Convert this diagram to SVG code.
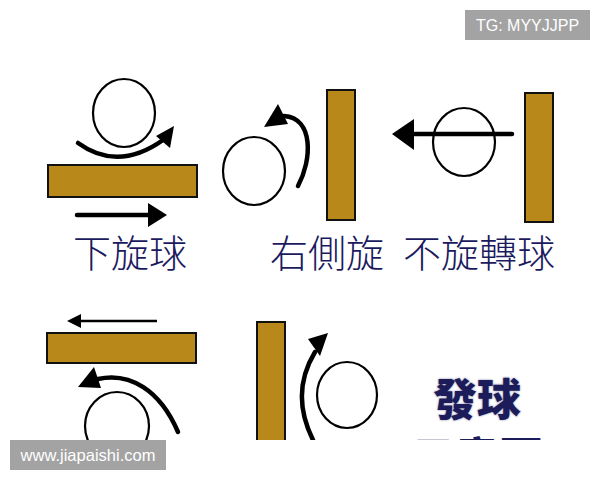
<svg xmlns="http://www.w3.org/2000/svg" width="600" height="480" viewBox="0 0 600 480">
  <defs>
    <style>
      .paddle { fill: #B8891A; stroke: #111; stroke-width: 2; }
      .ball { fill: #fff; stroke: #000; stroke-width: 2.2; }
      .thick { fill: none; stroke: #000; stroke-width: 4.5; stroke-linecap: round; }
      .thin { fill: none; stroke: #000; stroke-width: 2.5; }
      .head { fill: #000; }
      .label { font-family: "Noto Sans CJK TC", "Noto Sans CJK SC", sans-serif; font-size: 38px; font-weight: 300; fill: #1a1a5e; }
      .title { font-family: "Noto Sans CJK TC", "Noto Sans CJK SC", sans-serif; font-size: 44px; font-weight: 900; fill: #1c1c5a; }
      .wm { fill: #a3a3a3; }
      .wmtext { font-family: "Liberation Sans", Arial, sans-serif; fill: #fff; text-anchor: middle; }
    </style>
    <clipPath id="imgclip">
      <rect x="0" y="0" width="600" height="440"/>
    </clipPath>
    <filter id="blur" x="-10%" y="-10%" width="120%" height="120%">
      <feGaussianBlur stdDeviation="1.2"/>
    </filter>
  </defs>
  <rect x="0" y="0" width="600" height="480" fill="#fff"/>

  <g clip-path="url(#imgclip)">
    <g id="backspin">
      <ellipse class="ball" cx="124" cy="113" rx="31" ry="34"/>
      <rect class="paddle" x="48" y="165" width="149" height="32"/>
      <text class="label" x="73" y="267">下旋球</text>
    </g>

    <g id="sidespin">
      <ellipse class="ball" cx="254" cy="171" rx="31" ry="34"/>
      <rect class="paddle" x="327" y="90" width="28" height="130"/>
      <text class="label" x="270" y="267">右側旋</text>
    </g>

    <g id="nospin">
      <ellipse class="ball" cx="464" cy="142" rx="31" ry="34"/>
      <rect class="paddle" x="525" y="93" width="28" height="129"/>
      <text class="label" x="403" y="267">不旋轉球</text>
    </g>

    <g id="serve-under">
      <rect class="paddle" x="47" y="333" width="149" height="30"/>
      <ellipse class="ball" cx="117" cy="426" rx="32" ry="34"/>
    </g>

    <g id="serve-side">
      <rect class="paddle" x="257" y="322" width="28" height="140"/>
      <ellipse class="ball" cx="347" cy="395" rx="30" ry="33"/>
    </g>

    <g id="title">
      <text class="title" x="433" y="416" filter="url(#blur)" opacity="0.5">發球</text>
      <text class="title" x="433" y="416">發球</text>
      <text class="title" x="411" y="475">示意圖</text>
    </g>

    <g id="connectors">
      <path class="thick" d="M78,143 Q118,172 163,140"/>
      <polygon class="head" points="174,126 156,136 170,148"/>
      <line class="thick" x1="77" y1="215" x2="150" y2="215" stroke-linecap="butt"/>
      <polygon class="head" points="167,215 148,203 148,227"/>
      <path class="thick" d="M298,186 C312,160 314,118 284,116"/>
      <polygon class="head" points="278,104 264,127 288,124"/>
      <line class="thick" x1="412" y1="134" x2="512" y2="134" stroke-linecap="butt"/>
      <polygon class="head" points="392,134 414,119 414,150"/>
      <line class="thin" x1="77" y1="321" x2="157" y2="321"/>
      <polygon class="head" points="67,321 81,314 81,328"/>
      <path class="thick" d="M98,379 C130,372 160,390 178,432"/>
      <polygon class="head" points="94,367 78,387 101,388"/>
      <path class="thick" d="M315,352 C298,380 298,410 313,440"/>
      <polygon class="head" points="328,333 308,339 320,356"/>
    </g>
  </g>

  <g id="wm-tg">
    <rect class="wm" x="465" y="10" width="125" height="30"/>
    <text class="wmtext" x="527.5" y="31" font-size="16">TG: MYYJJPP</text>
  </g>
  <g id="wm-site">
    <rect class="wm" x="10" y="440" width="156" height="30"/>
    <text class="wmtext" x="88" y="461" font-size="16.5">www.jiapaishi.com</text>
  </g>
</svg>
